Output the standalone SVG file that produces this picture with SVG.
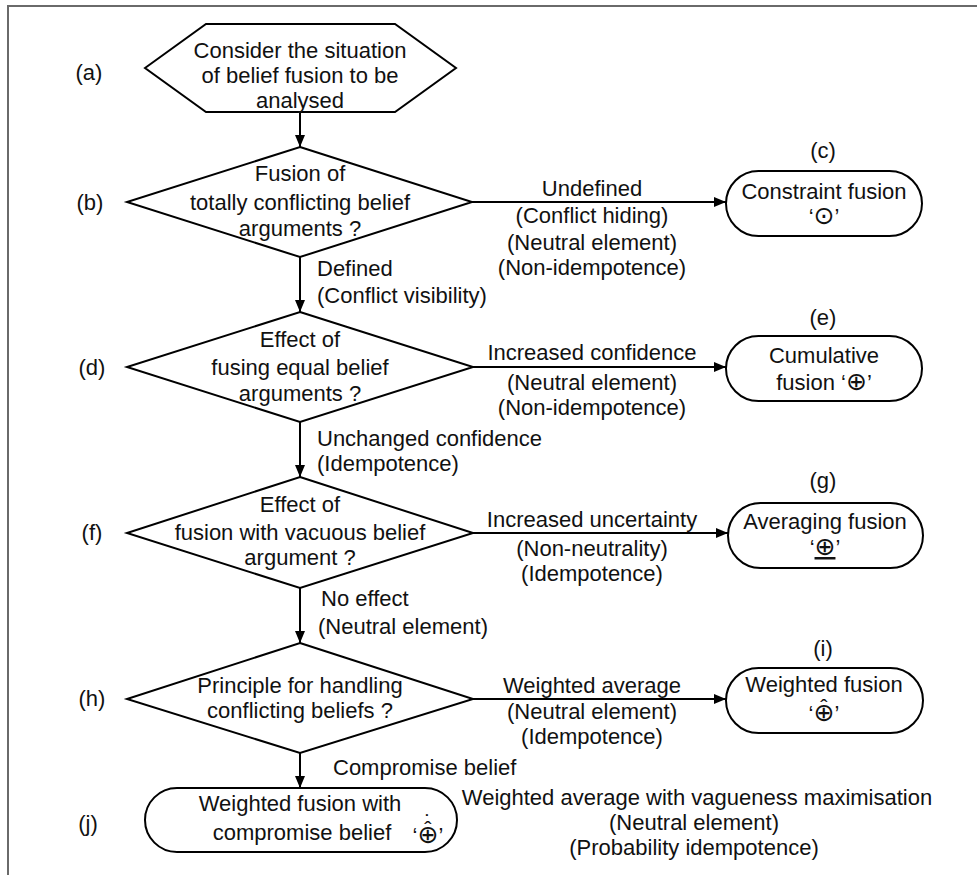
<svg xmlns="http://www.w3.org/2000/svg" width="977" height="875" viewBox="0 0 977 875">
<style>
text{font-family:"Liberation Sans",Arial,sans-serif;font-size:22px;fill:#111;}
.c{text-anchor:middle;}
.shape{fill:#fff;stroke:#000;stroke-width:2;}
.edge{fill:none;stroke:#000;stroke-width:2;}
.frame{fill:none;stroke:#6a6a6a;stroke-width:2;}
.sym{font-family:"DejaVu Sans","Liberation Sans",sans-serif;font-size:25px;}
.acc{font-family:"Liberation Sans",sans-serif;font-size:22px;}
</style>
<defs>
<marker id="ah" viewBox="0 0 12 10" refX="12" refY="5" markerWidth="12" markerHeight="10" markerUnits="userSpaceOnUse" orient="auto">
<path d="M0,0 L12,5 L0,10 Z" fill="#000"/>
</marker>
</defs>
<rect width="977" height="875" fill="#fff"/>
<polyline class="frame" points="8,875 8,6 977,6"/>

<g id="connectors">
<line class="edge" x1="300" y1="112" x2="300" y2="147" marker-end="url(#ah)"/>
<line class="edge" x1="472" y1="202" x2="726" y2="202" marker-end="url(#ah)"/>
<line class="edge" x1="300" y1="257" x2="300" y2="312" marker-end="url(#ah)"/>
<line class="edge" x1="473" y1="367" x2="726" y2="367" marker-end="url(#ah)"/>
<line class="edge" x1="300" y1="422" x2="300" y2="477" marker-end="url(#ah)"/>
<line class="edge" x1="473" y1="533" x2="728" y2="533" marker-end="url(#ah)"/>
<line class="edge" x1="300" y1="588" x2="300" y2="643" marker-end="url(#ah)"/>
<line class="edge" x1="473" y1="699" x2="726" y2="699" marker-end="url(#ah)"/>
<line class="edge" x1="300" y1="753" x2="300" y2="788" marker-end="url(#ah)"/>
<text class="c" x="592" y="196">Undefined</text>
<text class="c" x="592" y="223">(Conflict hiding)</text>
<text class="c" x="592" y="250">(Neutral element)</text>
<text class="c" x="592" y="275">(Non-idempotence)</text>
<text x="317" y="276">Defined</text>
<text x="317" y="303">(Conflict visibility)</text>
<text class="c" x="592" y="360">Increased confidence</text>
<text class="c" x="592" y="390">(Neutral element)</text>
<text class="c" x="592" y="415">(Non-idempotence)</text>
<text x="317" y="446">Unchanged confidence</text>
<text x="317" y="471">(Idempotence)</text>
<text class="c" x="592" y="527">Increased uncertainty</text>
<text class="c" x="592" y="556">(Non-neutrality)</text>
<text class="c" x="592" y="581">(Idempotence)</text>
<text x="321" y="606">No effect</text>
<text x="318" y="634">(Neutral element)</text>
<text class="c" x="592" y="693">Weighted average</text>
<text class="c" x="592" y="719">(Neutral element)</text>
<text class="c" x="592" y="744">(Idempotence)</text>
<text x="333" y="775">Compromise belief</text>
<text class="c" x="697" y="805">Weighted average with vagueness maximisation</text>
<text class="c" x="694" y="830">(Neutral element)</text>
<text class="c" x="694" y="855">(Probability idempotence)</text>
</g>

<g id="node-a">
<polygon class="shape" points="145,68 206,24 395,24 456,68 395,112 206,112"/>
<text class="c" x="300" y="58">Consider the situation</text>
<text class="c" x="300" y="83">of  belief fusion to be</text>
<text class="c" x="300" y="108">analysed</text>
<text class="c" x="89" y="80">(a)</text>
</g>

<g id="node-b">
<polygon class="shape" points="300,147 472,202 300,257 127,202"/>
<text class="c" x="300" y="181">Fusion of</text>
<text class="c" x="300" y="210">totally conflicting belief</text>
<text class="c" x="300" y="236">arguments ?</text>
<text class="c" x="90" y="210">(b)</text>
</g>

<g id="node-c">
<rect class="shape" x="726" y="171" width="196" height="65" rx="32.5" ry="32.5"/>
<text class="c" x="823" y="158">(c)</text>
<text class="c" x="824" y="199">Constraint fusion</text>
<text class="c" x="824" y="224">‘<tspan class="sym">⊙</tspan>’</text>
</g>

<g id="node-d">
<polygon class="shape" points="300,312 473,367 300,422 127,367"/>
<text class="c" x="300" y="347">Effect of</text>
<text class="c" x="300" y="375">fusing equal belief</text>
<text class="c" x="300" y="401">arguments ?</text>
<text class="c" x="92" y="375">(d)</text>
</g>

<g id="node-e">
<rect class="shape" x="726" y="336" width="196" height="65" rx="32.5" ry="32.5"/>
<text class="c" x="823" y="325">(e)</text>
<text class="c" x="824" y="363">Cumulative</text>
<text class="c" x="824" y="390">fusion ‘<tspan class="sym">⊕</tspan>’</text>
</g>

<g id="node-f">
<polygon class="shape" points="300,477 473,533 300,588 127,533"/>
<text class="c" x="300" y="512">Effect of</text>
<text class="c" x="300" y="540">fusion with vacuous belief</text>
<text class="c" x="300" y="565">argument ?</text>
<text class="c" x="92" y="540">(f)</text>
</g>

<g id="node-g">
<rect class="shape" x="728" y="503" width="195" height="65" rx="32.5" ry="32.5"/>
<text class="c" x="823" y="488">(g)</text>
<text class="c" x="825" y="529">Averaging fusion</text>
<text class="c" x="825" y="555">‘<tspan class="sym" text-decoration="underline">⊕</tspan>’</text>
</g>

<g id="node-h">
<polygon class="shape" points="300,643 473,699 300,753 127,699"/>
<text class="c" x="300" y="693">Principle for handling</text>
<text class="c" x="300" y="718">conflicting beliefs ?</text>
<text class="c" x="92" y="706">(h)</text>
</g>

<g id="node-i">
<rect class="shape" x="726" y="668" width="197" height="65" rx="32.5" ry="32.5"/>
<text class="c" x="823" y="656">(i)</text>
<text class="c" x="824" y="692">Weighted fusion</text>
<text class="c" x="824" y="721">‘<tspan class="sym">⊕</tspan><tspan class="acc" dx="-14.2" dy="-6">ˆ</tspan><tspan dx="6.9" dy="6">’</tspan></text>
</g>

<g id="node-j">
<rect class="shape" x="145" y="788" width="312" height="64" rx="32" ry="32"/>
<text class="c" x="300" y="811">Weighted fusion with</text>
<text class="c" x="302" y="840">compromise belief</text>
<text class="c" x="428" y="843">‘<tspan class="sym">⊕</tspan><tspan class="acc" dx="-14.2" dy="-6">ˆ</tspan><tspan class="acc" dx="-7.3" dy="-7">˙</tspan><tspan dx="6.9" dy="13">’</tspan></text>
<text class="c" x="88" y="831">(j)</text>
</g>
</svg>
